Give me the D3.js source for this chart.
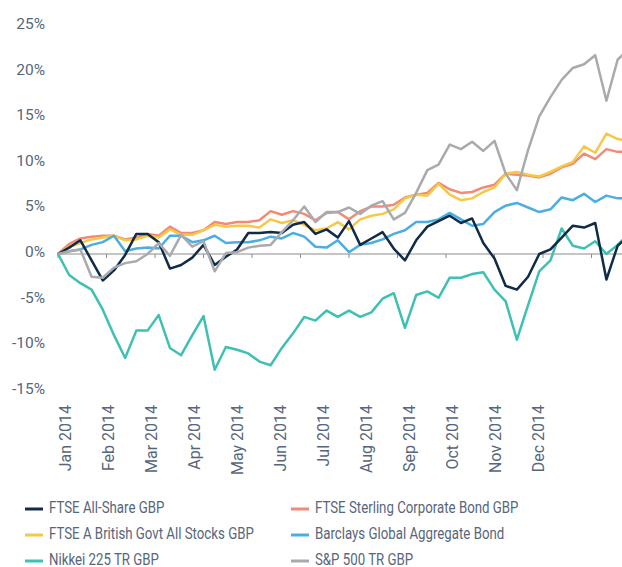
<!DOCTYPE html>
<html>
<head>
<meta charset="utf-8">
<script src="https://cdn.jsdelivr.net/npm/d3@7"></script>
<style>
  html, body { margin: 0; padding: 0; background: #fff; }
  svg { display: block; }
  text { font-family: Roboto, "Open Sans", sans-serif; fill: #56667c; }
</style>
</head>
<body>
<svg id="chart" width="622" height="567"></svg>
<script>
// ---- data (weekly cumulative returns, %) ----
const months = ["Jan 2014","Feb 2014","Mar 2014","Apr 2014","May 2014","Jun 2014","Jul 2014","Aug 2014","Sep 2014","Oct 2014","Nov 2014","Dec 2014"];
const yTicks = [-15, -10, -5, 0, 5, 10, 15, 20, 25];

const ftseAllShare = [0,0.7,1.5,-0.7,-2.9,-1.8,-0.1,2.2,2.2,1.3,-1.6,-1.2,-0.4,1.0,-1.2,-0.3,0.5,2.3,2.3,2.4,2.3,3.2,3.5,2.2,2.7,1.8,3.6,1.0,1.7,2.4,0.6,-0.7,1.5,3.0,3.6,4.2,3.4,3.9,1.2,-0.5,-3.5,-3.9,-2.5,0.0,0.5,1.8,3.1,2.9,3.4,-2.8,0.9,2.0];
const ftseCorpBond = [0,1.1,1.7,1.9,2.0,2.0,1.6,1.8,2.2,2.0,3.0,2.3,2.3,2.6,3.5,3.3,3.5,3.5,3.7,4.7,4.3,4.7,4.4,3.7,4.5,4.6,3.8,4.7,5.2,5.2,5.4,6.2,6.5,6.7,7.8,7.1,6.7,6.8,7.3,7.6,8.8,8.7,8.6,8.4,8.8,9.5,9.9,11.0,10.4,11.5,11.2,11.2];
const ftseGilts = [0,0.8,1.2,1.6,1.8,2.0,1.5,1.6,2.0,1.8,2.7,2.1,2.1,2.6,3.2,3.0,3.1,3.1,2.9,3.8,3.4,3.7,3.2,2.6,2.8,3.5,2.7,3.8,4.2,4.4,4.9,6.1,6.5,6.4,7.7,6.5,5.9,6.1,6.8,7.3,8.8,9.0,8.7,8.5,9.0,9.6,10.1,11.8,11.1,13.2,12.6,12.4];
const barclaysAgg = [0,0.3,0.5,1.0,1.3,2.0,0.3,0.6,0.7,0.6,2.0,2.0,1.3,1.5,2.0,1.2,1.3,1.3,1.5,1.9,1.7,2.3,1.9,0.8,0.7,1.5,0.2,1.0,1.2,1.6,2.2,2.6,3.5,3.5,3.8,4.5,3.8,3.1,3.3,4.6,5.3,5.6,5.1,4.6,4.9,6.2,5.9,6.6,5.7,6.4,6.1,6.1];
const nikkei = [0,-2.3,-3.2,-3.9,-6.1,-8.9,-11.4,-8.4,-8.4,-6.7,-10.3,-11.1,-8.9,-6.8,-12.7,-10.2,-10.5,-10.9,-11.8,-12.2,-10.3,-8.7,-6.9,-7.3,-6.2,-6.9,-6.2,-6.9,-6.4,-4.9,-4.3,-8.1,-4.5,-4.1,-4.8,-2.6,-2.6,-2.2,-2.0,-3.9,-5.2,-9.4,-5.6,-1.9,-0.7,2.8,0.9,0.6,1.4,0.0,1.0,2.2];
const sp500 = [0,0.3,0.5,-2.5,-2.6,-1.5,-1.0,-0.8,0.0,1.2,-0.2,2.1,0.8,1.4,-1.9,0.1,0.2,0.7,0.9,1.0,2.4,3.7,5.2,3.5,4.6,4.6,5.1,4.4,5.3,5.8,3.8,4.5,6.7,9.2,9.8,12.0,11.5,12.3,11.3,12.4,8.8,7.0,11.4,15.1,17.2,19.1,20.4,20.8,21.8,16.8,21.3,22.5];

const seriesNames = ["FTSE All-Share GBP","FTSE Sterling Corporate Bond GBP","FTSE A British Govt All Stocks GBP","Barclays Global Aggregate Bond","Nikkei 225 TR GBP","S&P 500 TR GBP"];
const seriesValues = [ftseAllShare, ftseCorpBond, ftseGilts, barclaysAgg, nikkei, sp500];
const seriesColors = ["#102b47","#f28a76","#f7c846","#4aaee3","#3ec0b3","#a9aaad"];
const drawOrder = [1, 2, 3, 4, 0, 5];

const weeksInYear = 52;

// ---- layout ----
const svg = d3.select("#chart");
const x = d3.scaleLinear().domain([0, weeksInYear]).range([58, 640]);
const y = d3.scaleLinear().domain([-15, 25]).range([390.8, 26]);
const xLabel = d3.scalePoint().domain(months).range([67, 540]);

// y labels
svg.append("g").selectAll("text").data(yTicks).join("text")
  .attr("x", 45).attr("y", d => y(d) - 1)
  .attr("text-anchor", "end").attr("dominant-baseline", "middle")
  .style("font-size", "15.5px").style("font-weight", 400)
  .text(d => d + "%");

// zero line with month ticks
const axisG = svg.append("g").attr("transform", `translate(0,${y(0)})`);
axisG.append("line").attr("x1", x(0)).attr("x2", 622).attr("stroke", "#8c8c8c").attr("stroke-width", 1.2);
const tickVals = d3.range(0, 13).map(k => k * weeksInYear / 12);
axisG.selectAll("line.tick").data(tickVals).join("line").attr("class", "tick")
  .attr("x1", d => x(d)).attr("x2", d => x(d)).attr("y1", 0).attr("y2", 4)
  .attr("stroke", "#8c8c8c").attr("stroke-width", 1);

// lines
const line = d3.line().x((d, i) => x(i)).y(d => y(d));
const linesG = svg.append("g");
drawOrder.forEach(k => {
  linesG.append("path").datum(seriesValues[k])
    .attr("d", line).attr("fill", "none")
    .attr("stroke", seriesColors[k]).attr("stroke-width", 2.5)
    .attr("stroke-linejoin", "round");
});

// x labels (rotated)
svg.append("g").selectAll("text").data(months).join("text")
  .attr("transform", d => `translate(${xLabel(d)},405) rotate(-90)`)
  .attr("text-anchor", "end").attr("dominant-baseline", "middle")
  .style("font-size", "16px").style("font-weight", 400)
  .text(d => d);

// legend
const legendPos = seriesNames.map((n, i) => ({ name: n, color: seriesColors[i], col: i % 2, row: Math.floor(i / 2) }));
const leg = svg.append("g").selectAll("g").data(legendPos).join("g")
  .attr("transform", d => `translate(${d.col ? 291 : 25},${509 + d.row * 26})`);
leg.append("line").attr("x1", 0).attr("x2", 18).attr("y1", 0).attr("y2", 0)
  .attr("stroke", d => d.color).attr("stroke-width", 3);
leg.append("text").attr("transform", "translate(24,0) scale(0.78,1)")
  .attr("dominant-baseline", "middle")
  .style("font-size", "17px").style("font-weight", 400)
  .text(d => d.name);
</script>
</body>
</html>
